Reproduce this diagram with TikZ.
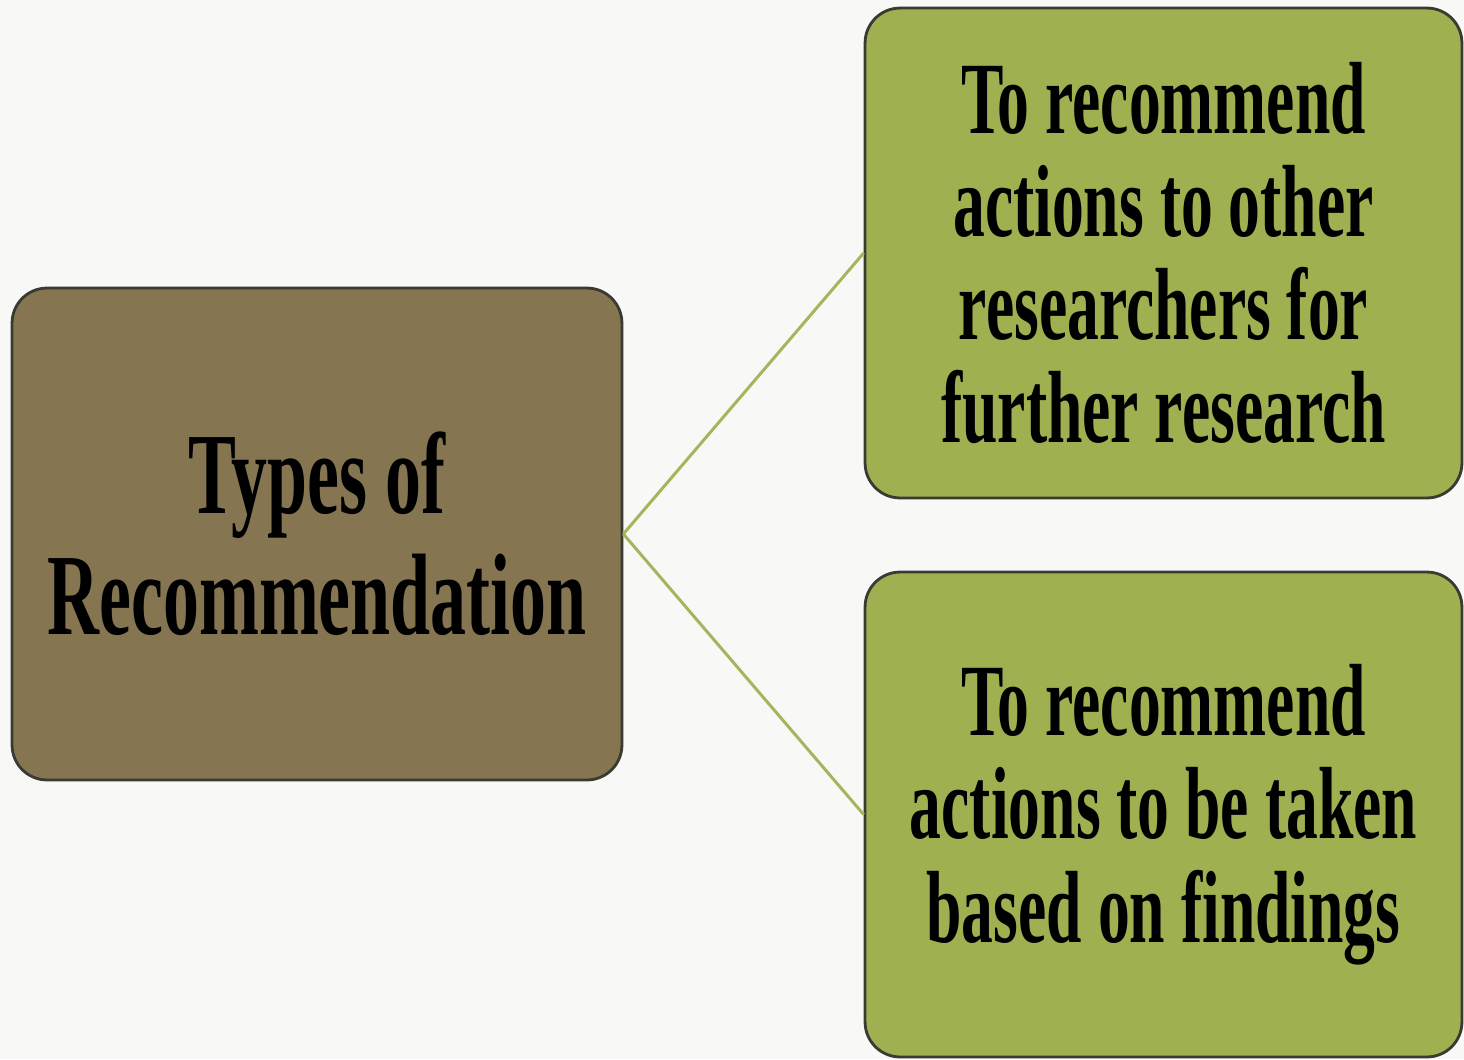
\documentclass[tikz,border=0pt]{standalone}
\usepackage{fontspec}
\usepackage{tikz}
\usetikzlibrary{positioning}
% narrow bold serif used in all boxes
\newfontfamily\narrowserif[FakeStretch=0.62]{Liberation Serif}
\definecolor{PaperGrey}{HTML}{F8F8F7}
\definecolor{OliveBrown}{HTML}{857551}
\definecolor{LeafGreen}{HTML}{9EB04F}
\definecolor{EdgeDark}{HTML}{3A3A32}
\definecolor{LinkGreen}{HTML}{A3B65C}
\tikzset{
  % Rounded topic box
  topic/.style={
    rectangle, rounded corners=0.7cm,
    draw=EdgeDark, line width=1.6pt, fill=#1,
    align=center, inner sep=0pt
  },
  % Branch line
  link/.style={line width=1.7pt, color=LinkGreen}
}

\begin{document}
\begin{tikzpicture}[x=0.02cm, y=-0.02cm]

  % Page
  \fill[PaperGrey] (0,0) rectangle (1464,1059);
  \useasboundingbox (0,0) rectangle (1464,1059);

  % Main topic
  \node[topic=OliveBrown, minimum width=12.2cm, minimum height=9.84cm,
        font=\narrowserif\bfseries\fontsize{66}{69}\selectfont] (types) at (317,534) {
    Types of\\
    Recommendation
  };

  % Branches
  \node[topic=LeafGreen, minimum width=11.94cm, minimum height=9.8cm,
        font=\narrowserif\bfseries\fontsize{58.4}{58.6}\selectfont] (further) at (1163.5,253) {
    To recommend\\
    actions to other\\
    researchers for\\
    further research
  };
  \node[topic=LeafGreen, minimum width=11.94cm, minimum height=9.7cm,
        font=\narrowserif\bfseries\fontsize{58.4}{59}\selectfont] (findings) at (1163.5,814.5) {
    To recommend\\
    actions to be taken\\
    based on findings
  };

  % Links
  \draw[link] (types.east) -- (further.west);
  \draw[link] (types.east) -- (findings.west);

\end{tikzpicture}
\end{document}
